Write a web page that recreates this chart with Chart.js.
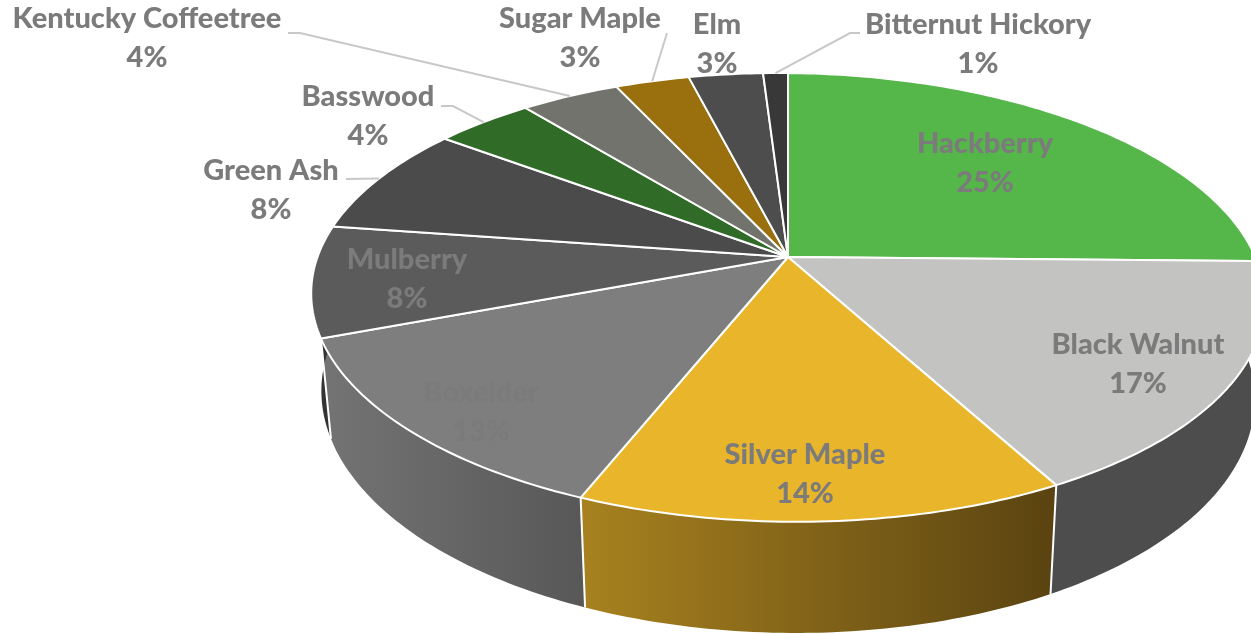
<!DOCTYPE html>
<html>
<head>
<meta charset="utf-8">
<title>Tree species</title>
<script src="https://cdn.jsdelivr.net/npm/chart.js@4"></script>
<style>
    html, body { margin: 0; padding: 0; background: #fff; overflow: hidden; }
    canvas { display: block; }
</style>
</head>
<body>
<canvas id="pie" width="1251" height="634"></canvas>
<script>
// Tree species share
const species = ['Hackberry', 'Black Walnut', 'Silver Maple', 'Boxelder', 'Mulberry', 'Green Ash',
    'Basswood', 'Kentucky Coffeetree', 'Sugar Maple', 'Elm', 'Bitternut Hickory'];
const shares = [25, 17, 14, 13, 8, 8, 4, 4, 3, 3, 1];
const topColors = ['#55B64A', '#C3C3C1', '#E9B52B', '#7E7E7E', '#5B5B5B', '#4B4B4B',
    '#306C28', '#71736C', '#9A700F', '#4D4D4D', '#383838'];
const wallColors = [['#2F6A28', '#2F6A28'], ['#4D4D4D', '#4D4D4D'], ['#A8821F', '#5A4311'], ['#747474', '#585858'],
    ['#333333', '#333333'], ['#333333', '#333333'], ['#1E4A1A', '#1E4A1A'], ['#4A4B47', '#4A4B47'],
    ['#63480A', '#63480A'], ['#333333', '#333333'], ['#222222', '#222222']];

// Where each text block sits, and the elbow of its leader line if it has one
const labelSpots = [
    { x: 985, y: 144 }, { x: 1138, y: 345 }, { x: 805, y: 455 }, { x: 481, y: 393 }, { x: 407, y: 260 },
    { x: 271, y: 171, leader: [[346, 179]] },
    { x: 368, y: 97, leader: [[441, 106], [453, 106]] },
    { x: 147, y: 19, leader: [[288, 33], [300, 33]] },
    { x: 580, y: 19, leader: [[667, 33]] },
    { x: 717, y: 25 },
    { x: 978, y: 25, leader: [[860, 33], [850, 33]] }
];

// Perspective view of the disc: unit circle -> screen
const view = { cx: 788, tilt: -0.18, roll: 4 };
const topPlane = { r: 469, b: 170.8, c: 257 };
const basePlane = { r: 459, b: 167, c: 352 };

function project(angle, plane) {
    const x = Math.cos(angle), y = Math.sin(angle);
    const w = 1 + view.tilt * y;
    return { x: view.cx + plane.r * x / w, y: (plane.b * y + plane.c + view.roll * x) / w };
}

function arcPoints(start, end, plane) {
    const steps = Math.max(2, Math.ceil((end - start) * 60));
    const pts = [];
    for (let i = 0; i <= steps; i++) {
        pts.push(project(start + (end - start) * i / steps, plane));
    }
    return pts;
}

function tracePoints(ctx, pts) {
    pts.forEach((p, i) => i ? ctx.lineTo(p.x, p.y) : ctx.moveTo(p.x, p.y));
}

const tiltedPie = {
    id: 'tiltedPie',
    beforeDatasetDraw(chart) {
        const ctx = chart.ctx;
        const arcs = chart.getDatasetMeta(0).data;
        ctx.save();
        ctx.lineJoin = 'round';

        // side wall first, the top face covers the back part of it
        arcs.forEach((arc, i) => {
            const rim = arcPoints(arc.startAngle, arc.endAngle, topPlane);
            const base = arcPoints(arc.startAngle, arc.endAngle, basePlane);
            const xs = rim.map(p => p.x);
            const grad = ctx.createLinearGradient(Math.min(...xs), 0, Math.max(...xs), 0);
            grad.addColorStop(0, wallColors[i][0]);
            grad.addColorStop(1, wallColors[i][1]);
            ctx.beginPath();
            tracePoints(ctx, rim.concat(base.reverse()));
            ctx.closePath();
            ctx.fillStyle = grad;
            ctx.fill();
        });
        arcs.forEach(arc => {
            const a = project(arc.startAngle, topPlane), b = project(arc.startAngle, basePlane);
            ctx.beginPath();
            ctx.moveTo(a.x, a.y);
            ctx.lineTo(b.x, b.y);
            ctx.strokeStyle = '#fff';
            ctx.lineWidth = 2;
            ctx.stroke();
        });

        // top face
        const apex = { x: view.cx, y: topPlane.c };
        arcs.forEach((arc, i) => {
            ctx.beginPath();
            tracePoints(ctx, [apex].concat(arcPoints(arc.startAngle, arc.endAngle, topPlane)));
            ctx.closePath();
            ctx.fillStyle = topColors[i];
            ctx.fill();
            ctx.strokeStyle = '#fff';
            ctx.lineWidth = 2;
            ctx.stroke();
        });
        ctx.restore();
        return false;
    },
    afterDatasetsDraw(chart) {
        const ctx = chart.ctx;
        const arcs = chart.getDatasetMeta(0).data;
        ctx.save();
        arcs.forEach((arc, i) => {
            const spot = labelSpots[i];
            if (spot.leader) {
                const mid = project((arc.startAngle + arc.endAngle) / 2, topPlane);
                ctx.beginPath();
                tracePoints(ctx, spot.leader.map(p => ({ x: p[0], y: p[1] })).concat([mid]));
                ctx.strokeStyle = '#C8C8C8';
                ctx.lineWidth = 2;
                ctx.stroke();
            }
            ctx.fillStyle = '#7B7B7B';
            ctx.font = '900 29px Lato';
            ctx.textAlign = 'center';
            ctx.textBaseline = 'middle';
            ctx.fillText(species[i], spot.x, spot.y);
            ctx.fillText(shares[i] + '%', spot.x, spot.y + 39);
        });
        ctx.restore();
    }
};

new Chart(document.getElementById('pie'), {
    type: 'pie',
    data: {
        labels: species,
        datasets: [{ data: shares, backgroundColor: topColors, borderColor: '#fff' }]
    },
    options: {
        responsive: false,
        animation: false,
        events: [],
        plugins: { legend: { display: false }, tooltip: { enabled: false } }
    },
    plugins: [tiltedPie]
});
</script>
</body>
</html>
